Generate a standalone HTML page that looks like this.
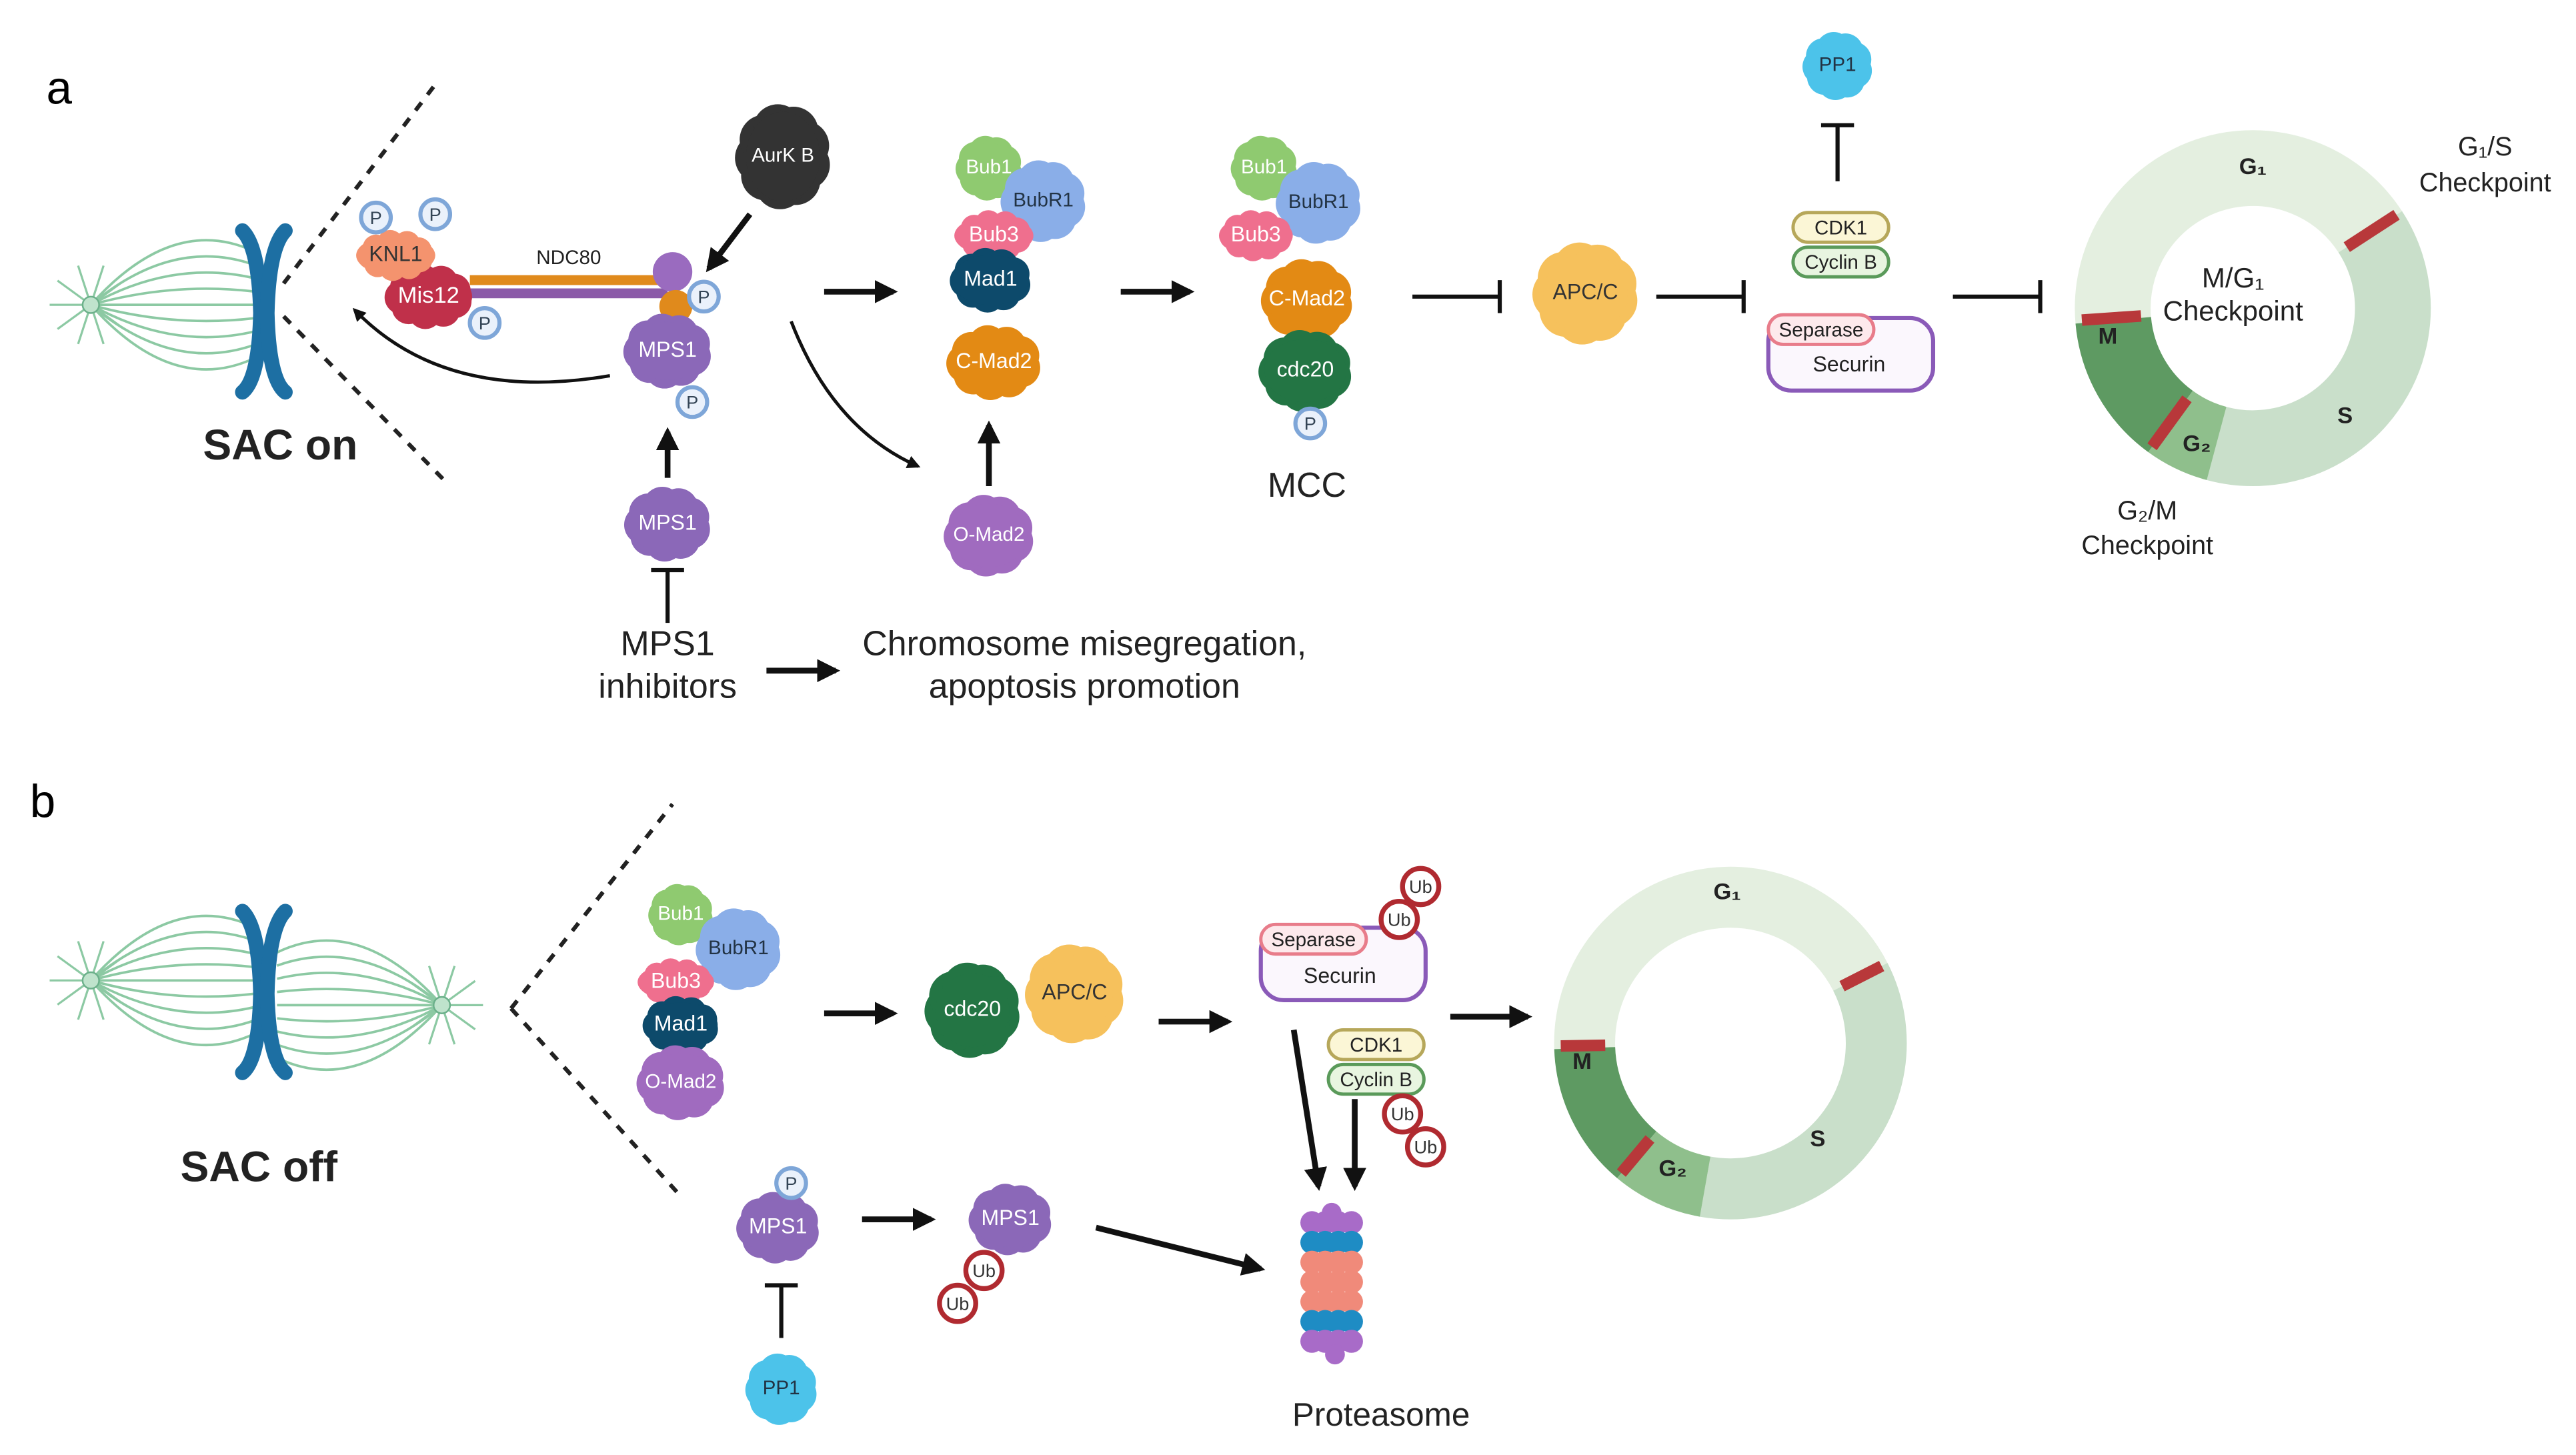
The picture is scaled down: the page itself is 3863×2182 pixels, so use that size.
<!DOCTYPE html>
<html><head><meta charset="utf-8">
<style>
html,body{margin:0;padding:0;background:#fff;}
svg{display:block;}
text{font-family:"Liberation Sans",sans-serif;}
</style></head>
<body>
<svg id="s" width="3863" height="2182" viewBox="0 0 1563 883" xmlns="http://www.w3.org/2000/svg">
<defs>
<marker id="ah" viewBox="0 0 10 10" refX="8" refY="5" markerWidth="4" markerHeight="4" orient="auto"><path d="M0,0 L10,5 L0,10 z" fill="#111"/></marker>
</defs>
<g id="g"></g>
<text x="28" y="63" font-family="Liberation Serif" font-size="28">a</text>
<text x="18" y="496" font-family="Liberation Serif" font-size="28">b</text>
</svg>
<script>
const NS="http://www.w3.org/2000/svg";const G=document.getElementById('g');
function el(t,a,txt){const e=document.createElementNS(NS,t);for(const k in a)e.setAttribute(k,a[k]);if(txt!==undefined)e.textContent=txt;G.appendChild(e);return e;}
function txt(x,y,s,size,opt={}){return el('text',Object.assign({x,y,'font-size':size,'text-anchor':'middle','dominant-baseline':'middle',fill:'#222'},opt),s);}
function blob(cx,cy,w,h,col,label,tc='#fff',fs=13){
  const n=9;for(let i=0;i<n;i++){const a=i/n*Math.PI*2+0.3;const r=Math.min(w,h)*0.27;
    el('circle',{cx:cx+Math.cos(a)*w*0.25,cy:cy+Math.sin(a)*h*0.25,r,fill:col});}
  el('ellipse',{cx,cy,rx:w*0.4,ry:h*0.4,fill:col});
  if(label)txt(cx,cy,label,fs,{fill:tc});
}
function arrow(x1,y1,x2,y2,sw=3.5){el('line',{x1,y1,x2,y2,stroke:'#111','stroke-width':sw,'marker-end':'url(#ah)'});}
function tbar(x1,y1,x2,y2){el('line',{x1,y1,x2,y2,stroke:'#111','stroke-width':2.5});
  const dx=x2-x1,dy=y2-y1,L=Math.hypot(dx,dy),px=-dy/L*10,py=dx/L*10;
  el('line',{x1:x2+px,y1:y2+py,x2:x2-px,y2:y2-py,stroke:'#111','stroke-width':2.5});}
function pcirc(x,y){el('circle',{cx:x,cy:y,r:9,fill:'#eaf1fb',stroke:'#7ea6d8','stroke-width':2.5});txt(x,y+1,'P',11,{fill:'#345'});}
function ub(x,y){el('circle',{cx:x,cy:y,r:11,fill:'#fff',stroke:'#b02a30','stroke-width':3});txt(x,y+1,'Ub',11,{fill:'#333'});}
function pill(x,y,w,h,fill,stroke,label,fs=12){el('rect',{x:x-w/2,y:y-h/2,width:w,height:h,rx:h/2,fill,stroke,'stroke-width':2});txt(x,y+1,label,fs);}
function spindle(cx,cy,dir){for(let i=-4;i<=4;i++){el('path',{d:`M${cx},${cy} Q${cx+dir*50},${cy+i*14} ${cx+dir*100},${cy+i*8}`,stroke:'#8cc9a3','stroke-width':1.5,fill:'none'});}
  for(let i=0;i<10;i++){const a=i/10*Math.PI*2;el('line',{x1:cx,y1:cy,x2:cx+Math.cos(a)*25,y2:cy+Math.sin(a)*25,stroke:'#8cc9a3','stroke-width':1.3});}
  el('circle',{cx,cy,r:5,fill:'#bfe3cc',stroke:'#6bb08a'});}
function chromo(cx,cy){el('path',{d:`M${cx-13},${cy-50} Q${cx-3},${cy-40} ${cx-2},${cy} Q${cx-3},${cy+40} ${cx-13},${cy+48}`,stroke:'#1d6fa3','stroke-width':9,fill:'none','stroke-linecap':'round'});
  el('path',{d:`M${cx+13},${cy-50} Q${cx+3},${cy-40} ${cx+2},${cy} Q${cx+3},${cy+40} ${cx+13},${cy+48}`,stroke:'#1d6fa3','stroke-width':9,fill:'none','stroke-linecap':'round'});}
function ring(cx,cy,R,r,segs,marks){const mid=(R+r)/2,t=R-r,C=2*Math.PI*mid;
  segs.forEach(([a0,a1,c])=>{let span=((a1-a0)+360)%360;el('circle',{cx,cy,r:mid,fill:'none',stroke:c,'stroke-width':t,'stroke-dasharray':`${C*span/360} ${C}`,transform:`rotate(${a0} ${cx} ${cy})`});});
  marks.forEach(a=>{const rad=a*Math.PI/180;el('line',{x1:cx+Math.cos(rad)*(r+6),y1:cy+Math.sin(rad)*(r+6),x2:cx+Math.cos(rad)*(R-4),y2:cy+Math.sin(rad)*(R-4),stroke:'#b8383a','stroke-width':7});});}

/* ---------- Panel a ---------- */
spindle(55,185,1);chromo(160,190);
txt(170,272,'SAC on',26,{'font-weight':'bold'});
el('line',{x1:172,y1:172,x2:265,y2:50,stroke:'#222','stroke-width':2.5,'stroke-dasharray':'6,6'});
el('line',{x1:172,y1:192,x2:270,y2:292,stroke:'#222','stroke-width':2.5,'stroke-dasharray':'6,6'});
el('line',{x1:285,y1:170,x2:405,y2:170,stroke:'#e08a1c','stroke-width':6});
el('line',{x1:285,y1:178,x2:405,y2:178,stroke:'#8b5aa8','stroke-width':6});
txt(345,157,'NDC80',12);
el('circle',{cx:408,cy:165,r:12,fill:'#9a6bbf'});el('circle',{cx:410,cy:186,r:10,fill:'#e08a1c'});
blob(260,180,66,38,'#c0304a','Mis12','#fff',14);
blob(240,155,60,30,'#f4936e','KNL1','#333',13);
pcirc(228,132);pcirc(264,130);pcirc(294,196);pcirc(427,180);
blob(405,213,60,44,'#8b68b8','MPS1','#fff',13);pcirc(420,244);
blob(475,95,56,68,'#333','AurK B','#fff',12);
arrow(455,130,430,163);
el('path',{d:'M370,228 Q270,245 215,188',stroke:'#111','stroke-width':2,fill:'none','marker-end':'url(#ah)'});
blob(405,318,58,44,'#8b68b8','MPS1','#fff',13);
arrow(405,290,405,262);
tbar(405,378,405,346);
txt(405,392,'MPS1',21);txt(405,418,'inhibitors',21);
arrow(465,407,507,407);
txt(658,392,'Chromosome misegregation,',21);txt(658,418,'apoptosis promotion',21);
arrow(500,177,542,177);
el('path',{d:'M480,195 Q505,260 557,283',stroke:'#111','stroke-width':2,fill:'none','marker-end':'url(#ah)'});
blob(600,102,40,38,'#8fca70','Bub1','#fff',12);
blob(633,122,52,48,'#8aaee8','BubR1','#234',12);
blob(603,143,60,30,'#ef6f8e','Bub3','#fff',13);
blob(601,170,58,38,'#0d4a6b','Mad1','#fff',13);
blob(603,220,68,44,'#e38a14','C-Mad2','#fff',13);
blob(600,325,58,48,'#a06bbf','O-Mad2','#fff',12);
arrow(600,295,600,258);
arrow(680,177,722,177);
blob(767,102,40,38,'#8fca70','Bub1','#fff',12);
blob(800,123,52,48,'#8aaee8','BubR1','#234',12);
blob(762,143,56,30,'#ef6f8e','Bub3','#fff',13);
blob(793,182,60,48,'#e38a14','C-Mad2','#fff',13);
blob(792,225,62,48,'#237544','cdc20','#fff',13);
pcirc(795,257);
txt(793,296,'MCC',21);
tbar(857,180,910,180);
blob(962,178,64,60,'#f6c15c','APC/C','#333',13);
tbar(1005,180,1058,180);
blob(1115,40,42,40,'#4cc3ea','PP1','#234',12);
tbar(1115,110,1115,76);
pill(1117,138,58,18,'#fbf6d6','#b6a75a','CDK1');
pill(1117,159,58,18,'#e8f5e0','#5a9a5a','Cyclin B');
el('rect',{x:1073,y:193,width:100,height:44,rx:14,fill:'#fbf7fd',stroke:'#8a5ab8','stroke-width':2.5});
pill(1105,200,64,18,'#fde9ec','#e87c8a','Separase',12);
txt(1122,222,'Securin',13);
tbar(1185,180,1238,180);
ring(1367,187,108,62,[[175,327,'#e4efe0'],[327,105,'#c9dfca'],[105,126,'#8fbf8c'],[126,175,'#5e9a62']],[327,126,176]);
txt(1367,102,'G₁',14,{'font-weight':'bold'});
txt(1423,253,'S',14,{'font-weight':'bold'});
txt(1333,270,'G₂',14,{'font-weight':'bold'});
txt(1279,205,'M',14,{'font-weight':'bold'});
txt(1355,170,'M/G₁',17);txt(1355,190,'Checkpoint',17);
txt(1508,90,'G₁/S',16);txt(1508,112,'Checkpoint',16);
txt(1303,311,'G₂/M',16);txt(1303,332,'Checkpoint',16);

/* ---------- Panel b ---------- */
spindle(55,595,1);spindle(268,610,-1);chromo(160,603);
txt(157,710,'SAC off',26,{'font-weight':'bold'});
el('line',{x1:310,y1:612,x2:408,y2:488,stroke:'#222','stroke-width':2.5,'stroke-dasharray':'6,6'});
el('line',{x1:310,y1:612,x2:413,y2:726,stroke:'#222','stroke-width':2.5,'stroke-dasharray':'6,6'});
blob(413,555,40,36,'#8fca70','Bub1','#fff',12);
blob(448,576,52,48,'#8aaee8','BubR1','#234',12);
blob(410,596,58,28,'#ef6f8e','Bub3','#fff',13);
blob(413,622,56,34,'#0d4a6b','Mad1','#fff',13);
blob(413,657,60,44,'#a06bbf','O-Mad2','#fff',12);
arrow(500,615,542,615);
blob(590,613,56,56,'#237544','cdc20','#fff',13);
blob(652,603,58,58,'#f6c15c','APC/C','#333',13);
arrow(703,620,745,620);
el('rect',{x:765,y:563,width:100,height:44,rx:14,fill:'#fbf7fd',stroke:'#8a5ab8','stroke-width':2.5});
pill(797,570,64,18,'#fde9ec','#e87c8a','Separase',12);
txt(813,593,'Securin',13);
ub(862,538);ub(849,558);
arrow(880,617,927,617);
pill(835,634,58,18,'#fbf6d6','#b6a75a','CDK1');
pill(835,655,58,18,'#e8f5e0','#5a9a5a','Cyclin B');
ub(851,676);ub(865,696);
arrow(785,625,800,720);arrow(822,667,822,720);
for(let i=0;i<7;i++){const y=742+i*12;const c=i==0||i==6?'#a86bc8':(i==1||i==5?'#1e8cc4':'#f08a7a');
 for(let j=0;j<4;j++)el('circle',{cx:796+j*8,cy:y,r:7,fill:c});}
el('circle',{cx:808,cy:736,r:6,fill:'#a86bc8'});el('circle',{cx:810,cy:822,r:6,fill:'#a86bc8'});
txt(838,860,'Proteasome',20);
blob(472,745,56,42,'#8b68b8','MPS1','#fff',13);pcirc(480,718);
arrow(523,740,565,740);
blob(613,740,56,42,'#8b68b8','MPS1','#fff',13);
ub(597,771);ub(581,791);
arrow(665,745,765,770);
blob(474,843,42,42,'#4cc3ea','PP1','#234',12);
tbar(474,812,474,780);
ring(1050,633,107,70,[[178,333,'#e4efe0'],[333,100,'#c9dfca'],[100,130,'#8fbf8c'],[130,178,'#5e9a62']],[333,130,179]);
txt(1048,542,'G₁',14,{'font-weight':'bold'});
txt(960,645,'M',14,{'font-weight':'bold'});
txt(1015,710,'G₂',14,{'font-weight':'bold'});
txt(1103,692,'S',14,{'font-weight':'bold'});
</script>
</body></html>
